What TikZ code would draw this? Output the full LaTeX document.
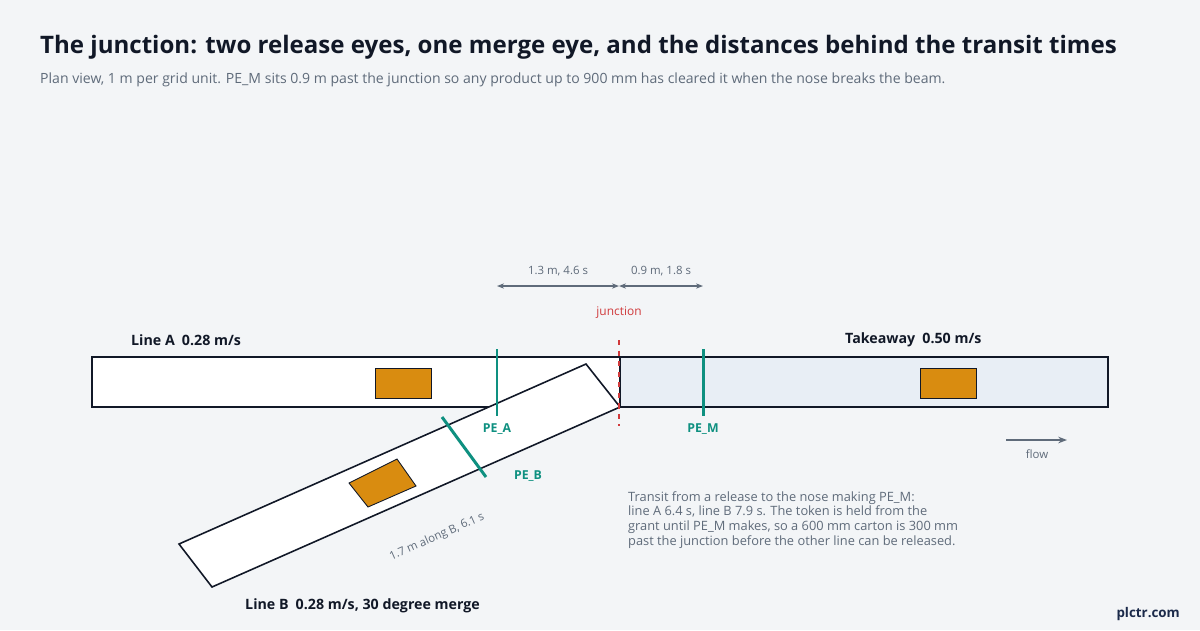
\documentclass[tikz,border=0pt]{standalone}
\usepackage{fontspec}
\setmainfont{Open Sans}
\usetikzlibrary{arrows.meta}
\definecolor{bgc}{HTML}{F3F5F7}
\definecolor{ink}{HTML}{111827}
\definecolor{muted}{HTML}{5F6B7A}
\definecolor{eye}{HTML}{0E9080}
\definecolor{carton}{HTML}{D98C10}
\definecolor{take}{HTML}{E8EEF5}
\definecolor{junc}{HTML}{D0393B}
\definecolor{brand}{HTML}{1B2A4A}
\begin{document}
\begin{tikzpicture}[x=0.02cm,y=-0.02cm,
  belt/.style={draw=ink,line width=0.9pt},
  box/.style={draw=ink,fill=carton,line width=0.5pt},
  pe/.style={draw=eye,line width=1.7pt},
  pelbl/.style={text=eye,font=\bfseries\fontsize{7}{8}\selectfont},
  lbl/.style={text=ink,font=\bfseries\fontsize{8.1}{9}\selectfont},
  dim/.style={draw=muted,line width=0.6pt,{Stealth[length=4pt]}-{Stealth[length=4pt]}},
  small/.style={text=muted,font=\fontsize{6.5}{8}\selectfont}]
\fill[bgc] (0,0) rectangle (1200,630);
\useasboundingbox (0,0) rectangle (1200,630);
% heading
\node[anchor=west,text=ink,font=\bfseries\fontsize{13.7}{16}\selectfont] (title) at (34,47)
  {The junction: two release eyes, one merge eye, and the distances behind the transit times};
\node[anchor=west,text=muted,font=\fontsize{8}{10}\selectfont] (sub) at (34,80)
  {Plan view, 1 m per grid unit. PE\_M sits 0.9 m past the junction so any product up to 900 mm has cleared it when the nose breaks the beam.};
% belts
\draw[belt,fill=white] (92,357) rectangle (620,407);
\draw[belt,fill=take] (620,357) rectangle (1108,407);
\draw[belt,fill=white] (586,364) -- (620,407) -- (212,587) -- (179,544) -- cycle;
% cartons
\draw[box] (375,368) rectangle (431,398);
\draw[box] (920,368) rectangle (976,398);
\draw[box] (349,483) -- (397,459) -- (416,486) -- (368,507) -- cycle;
% junction
\draw[junc,dashed,line width=0.8pt] (619,340) -- (619,426);
\node[text=junc,font=\fontsize{6.8}{8}\selectfont] (jn) at (619,313) {junction};
% eyes
\coordinate (pea1) at (497,349); \coordinate (pea2) at (497,416);
\coordinate (pem1) at (703,349); \coordinate (pem2) at (703,416);
\coordinate (peb1) at (442,417); \coordinate (peb2) at (486,477);
\draw[pe] (pea1) -- (pea2);
\draw[pe] (pem1) -- (pem2);
\draw[pe] (peb1) -- (peb2);
\node[pelbl] (pea) at (497,429) {PE\_A};
\node[pelbl] (pem) at (703,429) {PE\_M};
\node[pelbl] (peb) at (528,476) {PE\_B};
% dimensions
\coordinate (d1) at (497,286); \coordinate (d2) at (619,286); \coordinate (d3) at (703,286);
\draw[dim] (d1) -- (d2);
\draw[dim] (d2) -- (d3);
\node[small] at (558,271) {1.3 m, 4.6 s};
\node[small] at (661,271) {0.9 m, 1.8 s};
% labels
\node[lbl,anchor=west] (la) at (125,340) {Line A\enspace 0.28 m/s};
\node[lbl,anchor=west] (lt) at (839,340) {Takeaway\enspace 0.50 m/s};
\node[lbl,anchor=west] (lb) at (239,606) {Line B\enspace 0.28 m/s, 30 degree merge};
\node[small,rotate=24] at (437,537) {1.7 m along B, 6.1 s};
% flow
\coordinate (f1) at (1006,440); \coordinate (f2) at (1067,440);
\draw[draw=muted,line width=0.8pt,-{Stealth[length=5pt]}] (f1) -- (f2);
\node[small] (fl) at (1037,454) {flow};
% note
\node[anchor=north west,text=muted,align=left,font=\fontsize{7.3}{8.5}\selectfont] (note) at (622,485)
  {Transit from a release to the nose making PE\_M:\\
   line A 6.4 s, line B 7.9 s. The token is held from the\\
   grant until PE\_M makes, so a 600 mm carton is 300 mm\\
   past the junction before the other line can be released.};
\node[anchor=east,text=brand,font=\bfseries\fontsize{7.6}{9}\selectfont] (brand) at (1186,614) {plctr.com};
\end{tikzpicture}
\end{document}
